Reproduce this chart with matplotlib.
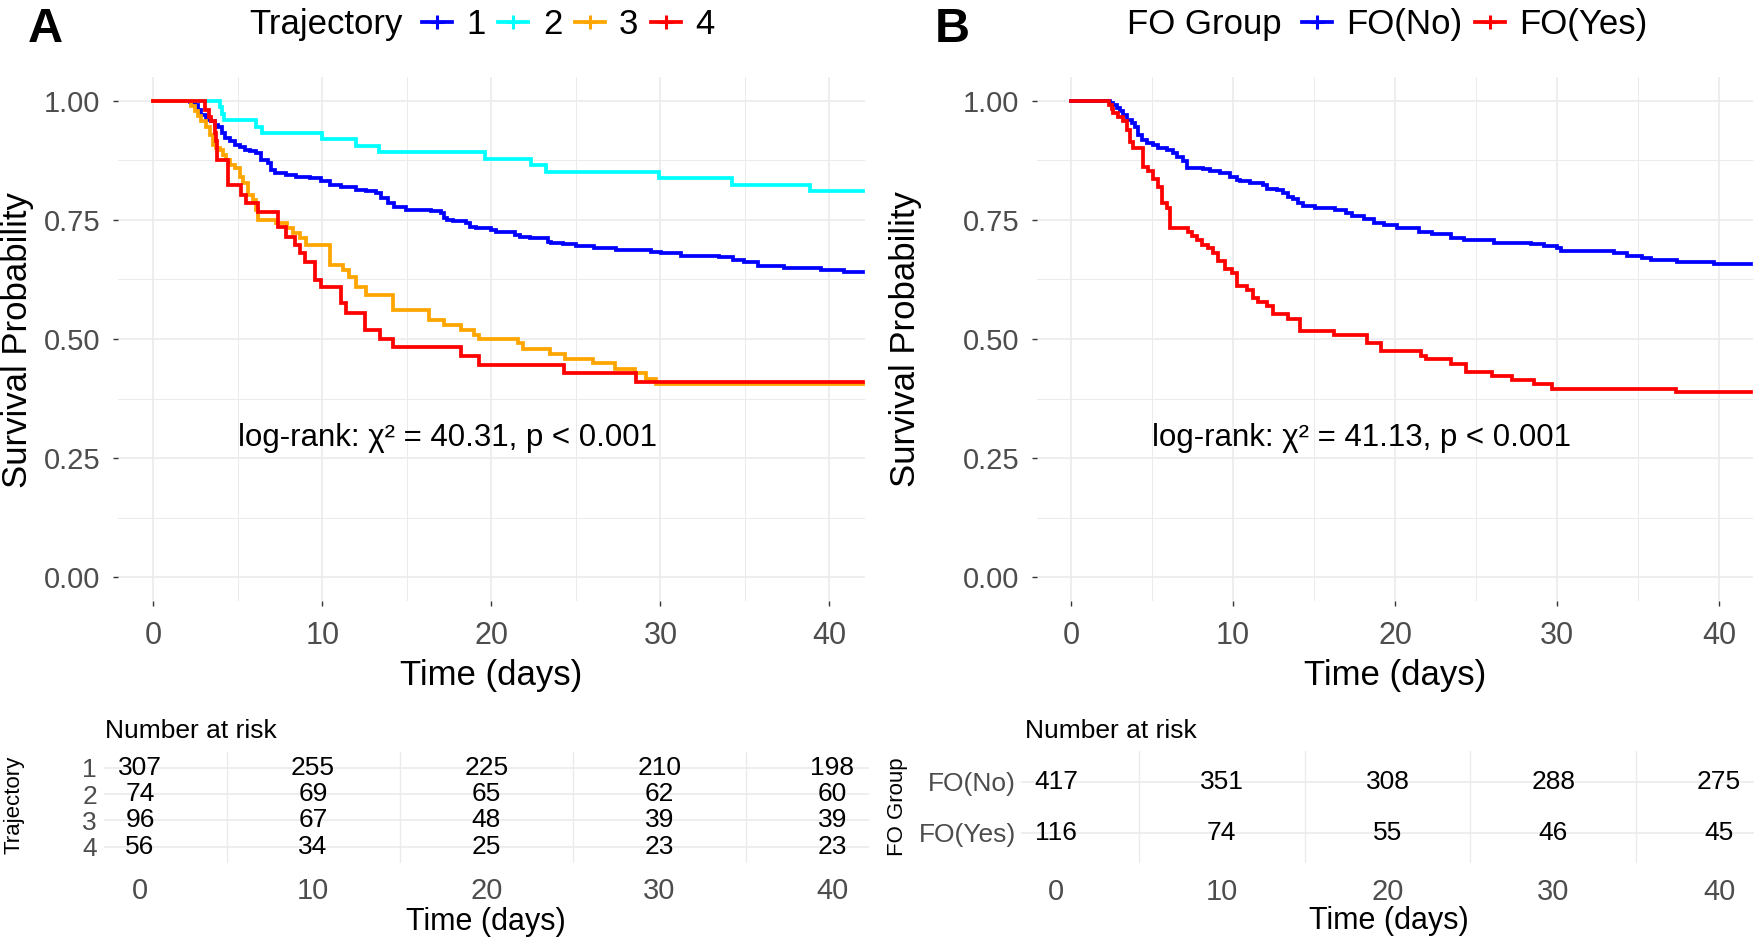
import numpy as np
import matplotlib
matplotlib.use("Agg")
import matplotlib.pyplot as plt
from matplotlib.lines import Line2D
from matplotlib.ticker import FormatStrFormatter

plt.rcParams['font.family'] = ['Liberation Sans', 'DejaVu Sans']

# Survival curves: (time in days, survival probability)
traj1_steps = [(0, 1.0), (2.17, 0.997), (2.46, 0.992), (2.66, 0.981), (2.85, 0.971), (3.15, 0.960),
               (3.44, 0.957), (3.64, 0.950), (3.84, 0.946), (4.04, 0.932), (4.23, 0.922), (4.53, 0.915),
               (4.82, 0.908), (5.12, 0.904), (5.41, 0.897), (5.71, 0.894), (6.1, 0.890), (6.4, 0.876),
               (6.79, 0.869), (6.99, 0.855), (7.19, 0.848), (7.87, 0.845), (8.46, 0.841), (9.25, 0.838),
               (9.94, 0.831), (10.43, 0.824), (11.12, 0.820), (12.0, 0.813), (12.6, 0.810), (13.19, 0.806),
               (13.48, 0.796), (13.88, 0.785), (14.27, 0.778), (14.96, 0.771), (16.44, 0.768), (17.03, 0.764),
               (17.22, 0.754), (17.4, 0.750), (17.74, 0.747), (18.52, 0.743), (18.72, 0.736), (19.11, 0.733),
               (20.0, 0.729), (20.3, 0.725), (21.38, 0.718), (21.67, 0.715), (22.26, 0.711), (23.35, 0.704),
               (23.54, 0.702), (24.23, 0.700), (25.02, 0.696), (26.1, 0.690), (27.38, 0.686), (29.45, 0.683),
               (30.04, 0.680), (31.22, 0.674), (33.48, 0.672), (34.27, 0.666), (34.96, 0.662), (35.75, 0.654),
               (37.32, 0.648), (39.48, 0.644), (40.87, 0.640), (42, 0.640)]
traj2_steps = [(0, 1.0), (3.94, 0.986), (4.05, 0.973), (4.2, 0.959), (6.06, 0.946), (6.46, 0.932),
               (10.0, 0.919), (12.0, 0.905), (13.35, 0.892), (19.6, 0.878), (22.36, 0.865), (23.25, 0.851),
               (29.94, 0.838), (34.23, 0.824), (38.84, 0.811), (42, 0.811)]
traj3_steps = [(0, 1.0), (2.26, 0.990), (2.46, 0.979), (2.66, 0.969), (2.85, 0.957), (3.15, 0.946),
               (3.35, 0.929), (3.54, 0.908), (3.74, 0.901), (3.94, 0.897), (4.13, 0.887), (4.33, 0.876),
               (4.53, 0.866), (4.82, 0.859), (5.12, 0.841), (5.31, 0.827), (5.61, 0.803), (5.91, 0.792),
               (6.10, 0.771), (6.20, 0.750), (7.28, 0.743), (7.9, 0.733), (8.27, 0.722), (8.66, 0.711),
               (9.06, 0.697), (10.43, 0.655), (11.22, 0.645), (11.61, 0.631), (12.0, 0.610), (12.6, 0.592),
               (14.17, 0.561), (16.34, 0.540), (17.22, 0.529), (18.23, 0.519), (19.0, 0.508), (19.27, 0.499),
               (21.57, 0.491), (21.87, 0.478), (23.44, 0.468), (24.33, 0.457), (26.0, 0.449), (27.3, 0.436),
               (28.47, 0.428), (29.16, 0.415), (29.75, 0.405), (42, 0.405)]
traj4_steps = [(0, 1.0), (3.05, 0.981), (3.3, 0.967), (3.44, 0.957), (3.64, 0.932), (3.70, 0.915),
               (3.78, 0.876), (4.43, 0.824), (5.2, 0.803), (5.5, 0.785), (6.2, 0.767), (7.38, 0.736),
               (7.87, 0.715), (8.37, 0.697), (8.66, 0.680), (8.96, 0.662), (9.55, 0.624), (9.94, 0.610),
               (11.12, 0.575), (11.42, 0.554), (12.5, 0.519), (13.39, 0.501), (14.17, 0.484), (18.23, 0.464),
               (19.27, 0.445), (24.3, 0.428), (28.56, 0.409), (42, 0.409)]

fo_no_steps = [(0, 1.0), (2.41, 0.996), (2.61, 0.992), (2.82, 0.985), (3.02, 0.978), (3.23, 0.971),
               (3.44, 0.960), (3.74, 0.953), (3.95, 0.946), (4.16, 0.929), (4.36, 0.918), (4.67, 0.912),
               (5.08, 0.908), (5.39, 0.901), (5.91, 0.897), (6.32, 0.890), (6.52, 0.883), (6.93, 0.873),
               (7.14, 0.859), (8.17, 0.856), (8.58, 0.852), (9.2, 0.848), (9.81, 0.841), (10.23, 0.834),
               (10.43, 0.831), (11.05, 0.828), (11.87, 0.824), (12.08, 0.814), (12.7, 0.812), (13.1, 0.806),
               (13.42, 0.799), (13.72, 0.794), (14.03, 0.785), (14.34, 0.779), (15.06, 0.775), (16.3, 0.770),
               (16.95, 0.764), (17.37, 0.758), (18.09, 0.751), (18.7, 0.744), (19.32, 0.739), (20.14, 0.734),
               (21.48, 0.725), (22.3, 0.721), (23.44, 0.711), (24.26, 0.708), (26.11, 0.702), (28.37, 0.699),
               (29.2, 0.696), (30.02, 0.690), (30.23, 0.685), (33.52, 0.680), (34.34, 0.674), (35.27, 0.669),
               (35.78, 0.665), (37.43, 0.662), (39.7, 0.657), (42, 0.657)]
fo_yes_steps = [(0, 1.0), (2.37, 0.991), (2.51, 0.983), (2.61, 0.974), (2.92, 0.966), (3.23, 0.957),
                (3.44, 0.939), (3.64, 0.914), (3.85, 0.901), (4.47, 0.862), (4.77, 0.853), (5.08, 0.836),
                (5.39, 0.819), (5.6, 0.785), (5.91, 0.776), (6.11, 0.733), (7.24, 0.724), (7.45, 0.716),
                (7.76, 0.707), (8.07, 0.698), (8.48, 0.690), (8.79, 0.681), (9.09, 0.664), (9.51, 0.647),
                (9.92, 0.638), (10.23, 0.612), (10.84, 0.603), (11.25, 0.586), (11.56, 0.578), (12.08, 0.569),
                (12.49, 0.552), (13.42, 0.543), (14.14, 0.517), (16.23, 0.508), (18.29, 0.491), (19.12, 0.474),
                (21.58, 0.465), (21.89, 0.457), (23.44, 0.448), (24.36, 0.431), (26.0, 0.422), (27.24, 0.414),
                (28.58, 0.405), (29.71, 0.396), (37.33, 0.388), (42, 0.388)]

# Groups
traj_labels = ['1', '2', '3', '4']
traj_colors = ['#0000FF', '#00FFFF', '#FFA500', '#FF0000']
fo_labels = ['FO(No)', 'FO(Yes)']
fo_colors = ['#0000FF', '#FF0000']

# Number at risk tables
risk_times = [0, 10, 20, 30, 40]
traj_risk = [[307, 255, 225, 210, 198],
             [74, 69, 65, 62, 60],
             [96, 67, 48, 39, 39],
             [56, 34, 25, 23, 23]]
fo_risk = [[417, 351, 308, 288, 275],
           [116, 74, 55, 46, 45]]

logrank_a = 'log-rank: χ² = 40.31, p < 0.001'
logrank_b = 'log-rank: χ² = 41.13, p < 0.001'

W, H = 1755, 940
fig = plt.figure(figsize=(W / 100, H / 100), dpi=100)
GRID = '#EBEBEB'
TICK = '#4D4D4D'


def add_ax(left, top, right, bottom):
    return fig.add_axes([left / W, 1 - bottom / H, (right - left) / W, (bottom - top) / H])


def fx(px):
    return px / W


def fy(px):
    return 1 - px / H


def survival_panel(ax, curves, colors, note):
    for steps, col in zip(curves, colors):
        arr = np.array(steps)
        ax.step(arr[:, 0], arr[:, 1], where='post', color=col, lw=2.7, solid_joinstyle='miter')
    ax.set_xlim(-2.1, 42.1)
    ax.set_ylim(-0.05, 1.05)
    ax.set_xticks([0, 10, 20, 30, 40])
    ax.set_xticks([5, 15, 25, 35], minor=True)
    ax.set_yticks([0, 0.25, 0.5, 0.75, 1.0])
    ax.set_yticks([0.125, 0.375, 0.625, 0.875], minor=True)
    ax.yaxis.set_major_formatter(FormatStrFormatter('%.2f'))
    ax.grid(True, which='major', color=GRID, lw=1.2)
    ax.grid(True, which='minor', color=GRID, lw=0.7)
    ax.set_axisbelow(True)
    for sp in ax.spines.values():
        sp.set_visible(False)
    ax.tick_params(which='major', length=3.6, width=1.0, color='#333333', labelcolor=TICK)
    ax.tick_params(which='minor', length=0)
    ax.tick_params(axis='x', labelsize=22, pad=10.5)
    ax.tick_params(axis='y', labelsize=21, pad=9.0)
    ax.text(5, 0.275, note, ha='left', va='baseline', fontsize=22.5, color='black')


def risk_panel(ax, table, labels, pad):
    n = len(table)
    for i, row in enumerate(table):
        for t, v in zip(risk_times, row):
            ax.text(t, i + 1, str(v), ha='center', va='center', fontsize=19, color='black')
    ax.set_xlim(-2.1, 42.1)
    ax.set_ylim(n + 0.6, 0.4)
    ax.set_xticks(risk_times)
    ax.set_xticks([5, 15, 25, 35], minor=True)
    ax.set_yticks(range(1, n + 1))
    ax.set_yticklabels(labels)
    ax.grid(False)
    ax.grid(True, which='minor', axis='x', color=GRID, lw=1.0)
    ax.grid(True, which='major', axis='y', color=GRID, lw=1.2)
    ax.set_axisbelow(True)
    for sp in ax.spines.values():
        sp.set_visible(False)
    ax.tick_params(which='both', length=0, labelcolor=TICK)
    ax.tick_params(axis='x', labelsize=21, pad=10.4)
    ax.tick_params(axis='y', labelsize=19, pad=pad)


# Panel A
ax_a = add_ax(117.7, 77, 865, 601)
survival_panel(ax_a, [traj1_steps, traj2_steps, traj3_steps, traj4_steps], traj_colors, logrank_a)
fig.text(fx(18), fy(340), 'Survival Probability', rotation=90, ha='center', va='center', fontsize=25)
fig.text(fx(491), fy(675), 'Time (days)', ha='center', va='center', fontsize=25)

rk_a = add_ax(103.6, 751.9, 868.8, 862.5)
risk_panel(rk_a, traj_risk, traj_labels, 4.8)
fig.text(fx(105), fy(738), 'Number at risk', ha='left', va='baseline', fontsize=19)
fig.text(fx(14), fy(805), 'Trajectory', rotation=90, ha='center', va='center', fontsize=16)
fig.text(fx(485.5), fy(922), 'Time (days)', ha='center', va='center', fontsize=22)

# Panel B
ax_b = add_ax(1037, 77, 1753, 601)
survival_panel(ax_b, [fo_no_steps, fo_yes_steps], fo_colors, logrank_b)
fig.text(fx(905), fy(339), 'Survival Probability', rotation=90, ha='center', va='center', fontsize=25)
fig.text(fx(1395), fy(675), 'Time (days)', ha='center', va='center', fontsize=25)

rk_b = add_ax(1021.2, 751.1, 1754, 863.3)
risk_panel(rk_b, fo_risk, fo_labels, 3.8)
fig.text(fx(1025), fy(738), 'Number at risk', ha='left', va='baseline', fontsize=19)
fig.text(fx(898), fy(807), 'FO Group', rotation=90, ha='center', va='center', fontsize=16)
fig.text(fx(1389), fy(921), 'Time (days)', ha='center', va='center', fontsize=22)


# Legends on top
def top_legend(title, title_x, anchor_x, labels, colors):
    fig.text(fx(title_x), fy(33.6), title, ha='left', va='baseline', fontsize=25)
    handles = [Line2D([0], [0], color=c, lw=2.7, marker='+', markersize=10, markeredgewidth=2.2)
               for c in colors]
    fig.legend(handles, labels, loc='center left', bbox_to_anchor=(fx(anchor_x), fy(24.8)),
               ncol=len(labels), frameon=False, fontsize=25, borderpad=0, borderaxespad=0,
               handlelength=0.86, handletextpad=0.42, columnspacing=0.36, numpoints=1)


top_legend('Trajectory', 249, 422, traj_labels, traj_colors)
top_legend('FO Group', 1127, 1302, fo_labels, fo_colors)

fig.text(fx(28), fy(42.5), 'A', ha='left', va='baseline', fontsize=35, fontweight='bold')
fig.text(fx(935), fy(42.5), 'B', ha='left', va='baseline', fontsize=35, fontweight='bold')

fig.savefig('out.png', dpi=100)
